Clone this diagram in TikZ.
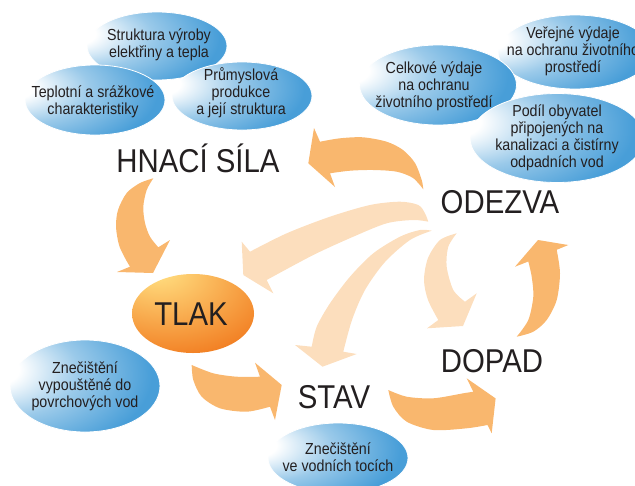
\documentclass[tikz,border=0pt]{standalone}
\usepackage{fontspec}
\setmainfont{Liberation Sans}
\newfontfamily\lbl[FakeStretch=0.89]{Liberation Sans}
\usetikzlibrary{shapes.geometric}
\definecolor{bblue}{RGB}{72,158,216}
\definecolor{oorange}{RGB}{242,128,36}
\definecolor{oyellow}{RGB}{255,216,122}
\definecolor{arrowor}{RGB}{249,183,110}
\definecolor{arrowpe}{RGB}{252,222,189}
\definecolor{ink}{RGB}{35,31,32}
\pgfdeclareradialshading{blueball}{\pgfpoint{-34bp}{10bp}}{color(0bp)=(white); color(9bp)=(white); color(24bp)=(bblue!55!white); color(42bp)=(bblue); color(100bp)=(bblue)}
\pgfdeclareradialshading{orangeball}{\pgfpoint{-16bp}{30bp}}{color(0bp)=(oyellow); color(6bp)=(oyellow); color(44bp)=(oorange); color(100bp)=(oorange)}
\tikzset{
  blob/.style={ellipse, draw=white, line width=0.8pt, shading=blueball, inner sep=0pt},
  orangeblob/.style={ellipse, shading=orangeball, inner sep=0pt},
  smalltxt/.style={font=\lbl\fontsize{16}{17}\selectfont, text=ink, align=center, inner sep=0pt},
  bigtxt/.style={font=\lbl\fontsize{33}{36}\selectfont, text=ink, inner sep=0pt, anchor=base},
  oarrow/.style={fill=arrowor},
  parrow/.style={fill=arrowpe}
}
\begin{document}
\begin{tikzpicture}[x=1pt,y=-1pt]
\useasboundingbox (0,0) rectangle (635,485);
\clip (0,0) rectangle (635,485);

% ---- peach arrows (from ODEZVA) ----
\fill[parrow] plot[smooth] coordinates {(250,251.7) (286.7,233.3) (330,216.7) (370,205) (400,201.7) (418.3,205) (425,213.3) (428.3,221.7)}
  -- plot[smooth] coordinates {(428.3,221.7) (413.3,220) (386.7,223.3) (353.3,236.7) (313.3,255) (266.7,280)}
  -- (273.3,293.3) -- (243.3,275) -- (241.7,241.7) -- cycle;
\fill[parrow] plot[smooth] coordinates {(311.7,346.7) (316.7,326.7) (330,303.3) (350,276.7) (373.3,253.3) (400,236.7) (420,230) (431.7,230.7)}
  -- plot[smooth] coordinates {(431.7,230.7) (410,240) (385,262) (365,290) (352,320) (343.3,351.7)}
  -- (356.7,354) -- (322.5,366.7) -- (295,345) -- cycle;
\fill[parrow] plot[smooth] coordinates {(456.7,233.3) (440,240) (428,258) (424,280) (428,300) (438.3,320)}
  -- (427,328.3) -- (463,326) -- (476.7,293.3) -- (465,301.7)
  -- plot[smooth] coordinates {(465,301.7) (453.3,290) (446.7,266.7) (448.3,246.7) (456.7,233.3)} -- cycle;

% ---- orange arrows ----
% HNACI SILA -> TLAK
\fill[oarrow] plot[smooth] coordinates {(153.3,178.3) (140,183) (126.7,193) (118,210) (116,226.7) (119,245) (125,258) (130,266.7)}
  -- (117,272) -- (153,273) -- (170,240)
  -- plot[smooth] coordinates {(158.3,247.3) (150,236.7) (145,223) (143.3,206.7) (146.7,190) (153.3,178.3)} -- cycle;
% ODEZVA -> HNACI SILA
\fill[oarrow] plot[smooth] coordinates {(320,141.7) (340,138.3) (363,137.3) (386.7,141.7) (403,150) (415,163) (421.7,180) (423.3,189.3)}
  -- plot[smooth] coordinates {(423.3,189.3) (413,178) (396.7,171.7) (373.3,170) (350,170.7) (330,173.3)}
  -- (335,187) -- (308.3,163.3) -- (314,128) -- cycle;
% DOPAD -> ODEZVA
\fill[oarrow] plot[smooth] coordinates {(516.7,336.7) (528.3,320) (533.3,296.7) (531.7,276.7) (528.3,261.5)}
  -- (515,266.7) -- (538,240) -- (568.3,245)
  -- plot[smooth] coordinates {(556.7,249.8) (560,273.3) (556.7,300) (546.7,320) (533.3,331.7) (516.7,336.7)} -- cycle;
% TLAK -> STAV
\fill[oarrow] plot[smooth] coordinates {(191.7,365) (213.3,373.3) (236.7,376.7) (260,376.7)}
  -- (255,362.7) -- (281.7,385) -- (275,420)
  -- plot[smooth] coordinates {(270,406.7) (246.7,411.7) (220,408.3) (201.7,396.7) (193.3,380) (191.7,365)} -- cycle;
% STAV -> DOPAD
\fill[oarrow] plot[smooth] coordinates {(388.3,390) (406.7,396.7) (433.3,398.3) (463.3,393.3) (473.3,391.7)}
  -- (466.7,378.3) -- (495.6,398.4) -- (491.7,433.3)
  -- plot[smooth] coordinates {(487.5,425) (466.7,428.3) (433.3,430) (406.7,421.7) (393.3,406.7) (388.3,390)} -- cycle;

% ---- blue ellipses ----
\node[blob, minimum width=140pt, minimum height=68pt] (e1) at (157,46) {};
\node[blob, minimum width=140pt, minimum height=70pt] (e2) at (95,100) {};
\node[blob, minimum width=140pt, minimum height=68pt] (e3) at (242,96) {};
\node[blob, minimum width=154pt, minimum height=74pt] (e5) at (575,52) {};
\node[blob, minimum width=157pt, minimum height=80pt] (e4) at (438,85) {};
\node[blob, minimum width=174pt, minimum height=89pt] (e6) at (557,138) {};
\node[blob, minimum width=150pt, minimum height=92pt] (e7) at (85,386) {};
\node[blob, minimum width=140pt, minimum height=70pt] (e8) at (338,458) {};
\node[orangeblob, minimum width=122pt, minimum height=79pt] (tlakel) at (193,313.5) {};

% ---- small texts ----
\node[smalltxt] (t1) at (159,45) {Struktura výroby\\elektřiny a tepla};
\node[smalltxt] (t2) at (93,102) {Teplotní a srážkové\\charakteristiky};
\node[smalltxt] (t3) at (241,93) {Průmyslová\\produkce\\a její struktura};
\node[smalltxt] (t5) at (573,51) {Veřejné výdaje\\na ochranu životního\\prostředí};
\node[smalltxt] (t4) at (434,86) {Celkové výdaje\\na ochranu\\životního prostředí};
\node[smalltxt] (t6) at (557,138) {Podíl obyvatel\\připojených na\\kanalizaci a čistírny\\odpadních vod};
\node[smalltxt] (t7) at (85,386) {Znečištění\\vypouštěné do\\povrchových vod};
\node[smalltxt] (t8) at (338,457) {Znečištění\\ve vodních tocích};

% ---- big labels ----
\node[bigtxt] (hnaci) at (198,172) {HNACÍ SÍLA};
\node[bigtxt] (odezva) at (500,213) {ODEZVA};
\node[bigtxt] (tlak) at (191,325.5) {TLAK};
\node[bigtxt] (dopad) at (492,372) {DOPAD};
\node[bigtxt] (stav) at (334,408) {STAV};
\end{tikzpicture}
\end{document}
